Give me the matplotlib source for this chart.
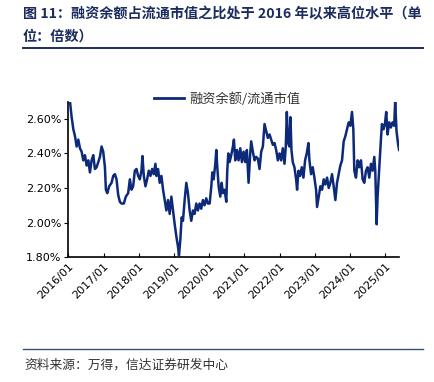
import numpy as np
import matplotlib.pyplot as plt
from matplotlib.lines import Line2D

plt.rcParams['font.family'] = ['Noto Sans CJK SC', 'DejaVu Sans']

years = [
    2016.001, 2016.048, 2016.095, 2016.143, 2016.190, 2016.237, 2016.284, 2016.331,
    2016.379, 2016.426, 2016.473, 2016.520, 2016.567, 2016.615, 2016.662, 2016.709,
    2016.756, 2016.804, 2016.851, 2016.898, 2016.945, 2016.992, 2017.040, 2017.068,
    2017.106, 2017.162, 2017.228, 2017.276, 2017.323, 2017.370, 2017.417, 2017.464,
    2017.511, 2017.577, 2017.634, 2017.700, 2017.748, 2017.795, 2017.842, 2017.889,
    2017.936, 2017.984, 2018.031, 2018.078, 2018.106, 2018.144, 2018.191, 2018.238,
    2018.285, 2018.333, 2018.380, 2018.427, 2018.474, 2018.502, 2018.549, 2018.596,
    2018.644, 2018.691, 2018.738, 2018.785, 2018.832, 2018.879, 2018.927, 2018.974,
    2019.021, 2019.068, 2019.115, 2019.143, 2019.181, 2019.219, 2019.256, 2019.304,
    2019.351, 2019.398, 2019.445, 2019.492, 2019.540, 2019.587, 2019.634, 2019.681,
    2019.728, 2019.775, 2019.823, 2019.870, 2019.917, 2019.964,
    2020.014, 2020.061, 2020.090, 2020.127, 2020.175, 2020.203, 2020.231, 2020.269,
    2020.316, 2020.354, 2020.392, 2020.439, 2020.486, 2020.514, 2020.543, 2020.580,
    2020.627, 2020.675, 2020.703, 2020.741, 2020.788, 2020.835, 2020.883, 2020.930,
    2020.977, 2021.024, 2021.071, 2021.119, 2021.166, 2021.194, 2021.241, 2021.289,
    2021.336, 2021.383, 2021.430, 2021.478, 2021.525, 2021.572, 2021.619, 2021.666,
    2021.714, 2021.761, 2021.808, 2021.855, 2021.903, 2021.950, 2021.997, 2022.044,
    2022.091, 2022.139, 2022.176, 2022.205, 2022.242, 2022.280, 2022.308, 2022.337,
    2022.374, 2022.422, 2022.469, 2022.497, 2022.535, 2022.582, 2022.630, 2022.677,
    2022.724, 2022.771, 2022.818, 2022.847, 2022.894, 2022.941, 2022.988, 2023.036,
    2023.064, 2023.111, 2023.158, 2023.206, 2023.253, 2023.300, 2023.348, 2023.395,
    2023.442, 2023.489, 2023.536, 2023.584, 2023.631, 2023.678, 2023.725, 2023.773,
    2023.820, 2023.867, 2023.914, 2023.962, 2024.009, 2024.056, 2024.094, 2024.122,
    2024.169, 2024.217, 2024.264, 2024.311, 2024.358, 2024.405, 2024.453, 2024.500,
    2024.547, 2024.594, 2024.642, 2024.689, 2024.717, 2024.755, 2024.783, 2024.830,
    2024.877, 2024.906, 2024.953, 2024.990, 2025.028, 2025.066, 2025.112, 2025.160,
    2025.207, 2025.254, 2025.282, 2025.320, 2025.367, 2025.395,
]
ratio = [
    2.78, 2.70, 2.61, 2.54, 2.50, 2.44, 2.48, 2.43,
    2.41, 2.36, 2.39, 2.33, 2.36, 2.29, 2.36, 2.39,
    2.31, 2.32, 2.35, 2.38, 2.44, 2.41, 2.32, 2.19,
    2.17, 2.21, 2.23, 2.27, 2.28, 2.25, 2.16, 2.12,
    2.11, 2.11, 2.15, 2.17, 2.25, 2.19, 2.21, 2.30,
    2.31, 2.27, 2.25, 2.30, 2.385, 2.27, 2.21, 2.25,
    2.30, 2.27, 2.31, 2.28, 2.34, 2.27, 2.31, 2.23,
    2.27, 2.19, 2.13, 2.07, 2.13, 2.05, 2.15, 2.07,
    1.99, 1.92, 1.86, 1.81, 1.90, 2.03, 2.01, 2.13,
    2.23, 2.17, 2.07, 2.01, 2.07, 2.05, 2.11, 2.07,
    2.11, 2.08, 2.13, 2.10, 2.14, 2.11,
    2.11, 2.21, 2.29, 2.25, 2.34, 2.42, 2.32, 2.21,
    2.15, 2.23, 2.17, 2.19, 2.12, 2.30, 2.40, 2.35,
    2.39, 2.44, 2.48, 2.36, 2.42, 2.36, 2.43, 2.35,
    2.41, 2.35, 2.42, 2.23, 2.40, 2.47, 2.41, 2.36,
    2.38, 2.37, 2.31, 2.41, 2.44, 2.57, 2.53, 2.49,
    2.51, 2.48, 2.45, 2.46, 2.42, 2.36, 2.40, 2.36,
    2.43, 2.34, 2.44, 2.64, 2.46, 2.44, 2.61, 2.42,
    2.35, 2.32, 2.25, 2.19, 2.30, 2.27, 2.32, 2.26,
    2.36, 2.40, 2.46, 2.36, 2.28, 2.32, 2.26, 2.19,
    2.09, 2.15, 2.21, 2.19, 2.25, 2.22, 2.26, 2.20,
    2.23, 2.28, 2.21, 2.13, 2.23, 2.28, 2.33, 2.36,
    2.47, 2.50, 2.54, 2.58, 2.56, 2.64, 2.54, 2.30,
    2.26, 2.36, 2.32, 2.36, 2.25, 2.23, 2.30, 2.32,
    2.26, 2.34, 2.30, 2.38, 2.30, 1.99, 2.15, 2.32,
    2.48, 2.57, 2.54, 2.57, 2.64, 2.51, 2.58, 2.55,
    2.58, 2.56, 2.70, 2.53, 2.45, 2.42,
]

tick_years = list(range(2016, 2026))
tick_labels = [f'{y}/01' for y in tick_years]
y_ticks = [1.80, 2.00, 2.20, 2.40, 2.60]

navy = '#0d2a7a'
title_color = '#1b2c5e'

fig = plt.figure(figsize=(4.35, 3.82), dpi=100)
ax = fig.add_axes([0.157, 0.327, 0.761, 0.407])

ax.plot(years, ratio, color=navy, lw=1.8, label='融资余额/流通市值')

ax.set_xlim(2016, 2025.4)
ax.set_ylim(1.80, 2.70)
ax.set_xticks(tick_years)
ax.set_xticklabels(tick_labels, rotation=45, ha='right', rotation_mode='anchor',
                   fontsize=8, family='DejaVu Sans')
ax.set_yticks(y_ticks)
ax.set_yticklabels([f'{v:.2f}%' for v in y_ticks], fontsize=8, family='DejaVu Sans')
ax.tick_params(axis='x', direction='in', length=3, pad=3)
ax.tick_params(axis='y', direction='out', length=3, pad=2)
for s in ['top', 'right']:
    ax.spines[s].set_visible(False)
for s in ['left', 'bottom']:
    ax.spines[s].set_linewidth(1.2)
ax.patch.set_alpha(0)

leg = fig.legend(handles=[Line2D([], [], color=navy, lw=2)], labels=['融资余额/流通市值'],
                 loc='center left', bbox_to_anchor=(0.327, 0.741), frameon=False,
                 fontsize=9.5, handlelength=2.3, handletextpad=0.4)
for t in leg.get_texts():
    t.set_color('#333333')

fig.text(0.053, 1 - 14 / 382, '图 11：融资余额占流通市值之比处于 2016 年以来高位水平（单',
         fontsize=10.2, fontweight='bold', color=title_color, va='center', ha='left')
fig.text(0.053, 1 - 37 / 382, '位：倍数）',
         fontsize=10.2, fontweight='bold', color=title_color, va='center', ha='left')
fig.add_artist(Line2D([0.053, 0.973], [1 - 48 / 382] * 2, color=title_color, lw=1.4))
fig.add_artist(Line2D([0.053, 0.973], [1 - 349 / 382] * 2, color='#3b4f7e', lw=1.0))
fig.text(0.057, 1 - 365 / 382, '资料来源：万得，信达证券研发中心',
         fontsize=9.2, style='italic', color='#333333', va='center', ha='left')

fig.savefig('out.png', dpi=100)
